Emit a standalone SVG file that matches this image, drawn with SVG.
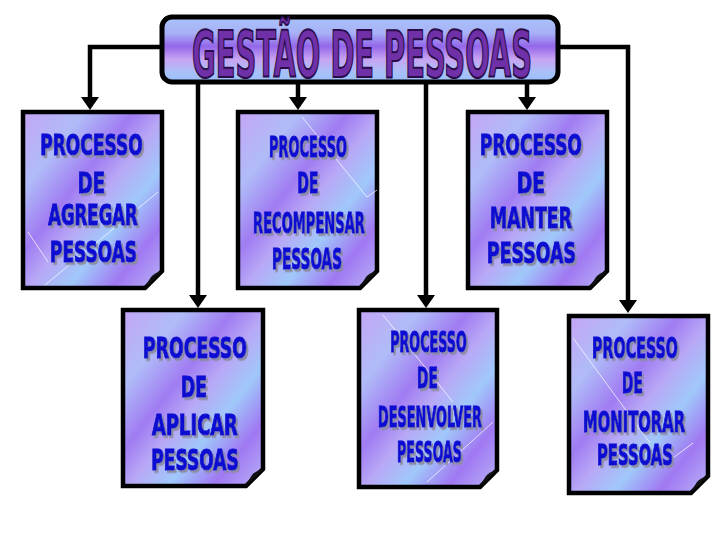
<svg xmlns="http://www.w3.org/2000/svg" width="720" height="540" viewBox="0 0 720 540">
<defs>
<linearGradient id="gTitle" x1="0" y1="0" x2="0" y2="1">
<stop offset="0" stop-color="#a8c4fa"/>
<stop offset="0.25" stop-color="#a8b0f6"/>
<stop offset="0.45" stop-color="#9466ea"/>
<stop offset="0.65" stop-color="#c8a4f2"/>
<stop offset="0.85" stop-color="#a8c0f8"/>
<stop offset="1" stop-color="#98c0fa"/>
</linearGradient>
<linearGradient id="gBox" x1="0" y1="0" x2="1" y2="1">
<stop offset="0" stop-color="#c4a4f6"/>
<stop offset="0.22" stop-color="#b0bcf8"/>
<stop offset="0.4" stop-color="#a07cf2"/>
<stop offset="0.52" stop-color="#b8a8f6"/>
<stop offset="0.66" stop-color="#a0c8fa"/>
<stop offset="0.82" stop-color="#a078f2"/>
<stop offset="1" stop-color="#b8b4f8"/>
</linearGradient>
<filter id="shadow" x="-10%" y="-20%" width="130%" height="150%">
<feDropShadow dx="3" dy="2.5" stdDeviation="0.6" flood-color="#8a8aa0" flood-opacity="0.95"/>
</filter>
<marker id="arrow" viewBox="0 0 13 18" refX="0" refY="9" markerWidth="13" markerHeight="18" markerUnits="userSpaceOnUse" orient="auto">
<path d="M0,0 L13,9 L0,18 Z" fill="#000"/>
</marker>
</defs>
<style>
.conn{fill:none;stroke:#000;stroke-width:4.5;stroke-linejoin:miter}
.box{fill:url(#gBox);stroke:#000;stroke-width:4.5;stroke-linejoin:miter}
.fold{fill:#111}
.spark{stroke:#ffffff;stroke-width:0.9;fill:none;opacity:0.8}
.lbl{font-family:"DejaVu Sans","Liberation Sans",sans-serif;font-stretch:condensed;font-weight:bold;font-size:29px;fill:#0a0ad2;stroke:#0a0ad2;stroke-width:1.1;text-anchor:middle;filter:url(#shadow)}
.title{font-family:"DejaVu Sans","Liberation Sans",sans-serif;font-stretch:condensed;font-weight:bold;font-size:64px;fill:#7030a8;stroke:#2a0c48;stroke-width:2;text-anchor:middle}
</style>

<g id="connectors">
<path class="conn" d="M162,47 H90 V97" marker-end="url(#arrow)"/>
<path class="conn" d="M198,82 V295" marker-end="url(#arrow)"/>
<path class="conn" d="M298,82 V97" marker-end="url(#arrow)"/>
<path class="conn" d="M426,82 V295" marker-end="url(#arrow)"/>
<path class="conn" d="M527,82 V97" marker-end="url(#arrow)"/>
<path class="conn" d="M558,47 H628 V300" marker-end="url(#arrow)"/>
</g>

<g id="title">
<rect x="162" y="17" width="396" height="65" rx="10" ry="10" fill="url(#gTitle)" stroke="#000" stroke-width="5"/>
<text class="title" transform="translate(362,77) scale(0.55,1)" textLength="618" lengthAdjust="spacingAndGlyphs">GESTÃO DE PESSOAS</text>
</g>

<g id="agregar">
<path class="box" d="M23,112 H162 V271 L145,288 H23 Z"/>
<path class="spark" d="M158,192 L45,285 M28,232 L48,262"/>
<path class="fold" d="M145,288 L162,271 Q154,273 151,277 Q148,281 145,288 Z"/>
<text class="lbl" transform="translate(91.5,155) scale(0.65,1)" textLength="158" lengthAdjust="spacingAndGlyphs">PROCESSO</text>
<text class="lbl" transform="translate(91.5,193) scale(0.65,1)" textLength="42" lengthAdjust="spacingAndGlyphs">DE</text>
<text class="lbl" transform="translate(93,225) scale(0.65,1)" textLength="138" lengthAdjust="spacingAndGlyphs">AGREGAR</text>
<text class="lbl" transform="translate(93.5,262) scale(0.65,1)" textLength="134" lengthAdjust="spacingAndGlyphs">PESSOAS</text>
</g>

<g id="recompensar">
<path class="box" d="M238,112 H377 V271 L360,288 H238 Z"/>
<path class="spark" d="M302,117 L367,197 L377,190"/>
<path class="fold" d="M360,288 L377,271 Q369,273 366,277 Q363,281 360,288 Z"/>
<text class="lbl" transform="translate(308,157) scale(0.65,1)" textLength="120" lengthAdjust="spacingAndGlyphs">PROCESSO</text>
<text class="lbl" transform="translate(308,193) scale(0.65,1)" textLength="32" lengthAdjust="spacingAndGlyphs">DE</text>
<text class="lbl" transform="translate(309,233) scale(0.65,1)" textLength="172" lengthAdjust="spacingAndGlyphs">RECOMPENSAR</text>
<text class="lbl" transform="translate(307,269) scale(0.65,1)" textLength="108" lengthAdjust="spacingAndGlyphs">PESSOAS</text>
</g>

<g id="manter">
<path class="box" d="M468,112 H607 V271 L590,288 H468 Z"/>
<path class="fold" d="M590,288 L607,271 Q599,273 596,277 Q593,281 590,288 Z"/>
<text class="lbl" transform="translate(531,155) scale(0.65,1)" textLength="157" lengthAdjust="spacingAndGlyphs">PROCESSO</text>
<text class="lbl" transform="translate(531,193) scale(0.65,1)" textLength="43" lengthAdjust="spacingAndGlyphs">DE</text>
<text class="lbl" transform="translate(531,228) scale(0.65,1)" textLength="126" lengthAdjust="spacingAndGlyphs">MANTER</text>
<text class="lbl" transform="translate(531.5,263) scale(0.65,1)" textLength="137" lengthAdjust="spacingAndGlyphs">PESSOAS</text>
</g>

<g id="aplicar">
<path class="box" d="M123,310 H263 V469 L246,486 H123 Z"/>
<path class="fold" d="M246,486 L263,469 Q255,471 252,475 Q249,479 246,486 Z"/>
<text class="lbl" transform="translate(195,358) scale(0.65,1)" textLength="160" lengthAdjust="spacingAndGlyphs">PROCESSO</text>
<text class="lbl" transform="translate(194,397) scale(0.65,1)" textLength="40" lengthAdjust="spacingAndGlyphs">DE</text>
<text class="lbl" transform="translate(195,435) scale(0.65,1)" textLength="132" lengthAdjust="spacingAndGlyphs">APLICAR</text>
<text class="lbl" transform="translate(195,470) scale(0.65,1)" textLength="135" lengthAdjust="spacingAndGlyphs">PESSOAS</text>
</g>

<g id="desenvolver">
<path class="box" d="M359,310 H497 V470 L480,487 H359 Z"/>
<path class="spark" d="M383,315 L453,402 M493,422 L427,482"/>
<path class="fold" d="M480,487 L497,470 Q489,472 486,476 Q483,480 480,487 Z"/>
<text class="lbl" transform="translate(428.5,352) scale(0.65,1)" textLength="118" lengthAdjust="spacingAndGlyphs">PROCESSO</text>
<text class="lbl" transform="translate(427.5,388) scale(0.65,1)" textLength="32" lengthAdjust="spacingAndGlyphs">DE</text>
<text class="lbl" transform="translate(430,427) scale(0.65,1)" textLength="160" lengthAdjust="spacingAndGlyphs">DESENVOLVER</text>
<text class="lbl" transform="translate(429.5,462) scale(0.65,1)" textLength="100" lengthAdjust="spacingAndGlyphs">PESSOAS</text>
</g>

<g id="monitorar">
<path class="box" d="M569,316 H708 V476 L691,493 H569 Z"/>
<path class="spark" d="M573,338 L650,443 M693,443 L673,458"/>
<path class="fold" d="M691,493 L708,476 Q700,478 697,482 Q694,486 691,493 Z"/>
<text class="lbl" transform="translate(635,358) scale(0.65,1)" textLength="132" lengthAdjust="spacingAndGlyphs">PROCESSO</text>
<text class="lbl" transform="translate(632.5,393) scale(0.65,1)" textLength="32" lengthAdjust="spacingAndGlyphs">DE</text>
<text class="lbl" transform="translate(634,432) scale(0.65,1)" textLength="157" lengthAdjust="spacingAndGlyphs">MONITORAR</text>
<text class="lbl" transform="translate(635,465) scale(0.65,1)" textLength="117" lengthAdjust="spacingAndGlyphs">PESSOAS</text>
</g>
</svg>
